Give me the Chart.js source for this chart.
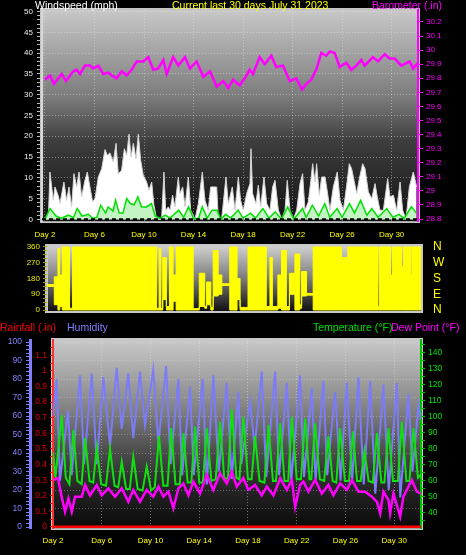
<!DOCTYPE html>
<html lang="en">
<head>
<meta charset="utf-8">
<title>Current last 30 days July 31 2023</title>
<script src="https://cdn.jsdelivr.net/npm/chart.js@4.4.0/dist/chart.umd.min.js"></script>
<style>
  html, body { margin: 0; padding: 0; background: #000; }
  body { position: relative; width: 466px; height: 555px; overflow: hidden; font-family: "Liberation Sans", Arial, sans-serif; }
  .panel { position: absolute; left: 0; width: 466px; }
  .caption { position: absolute; font-size: 10.5px; line-height: 12px; white-space: nowrap; }
</style>
</head>
<body>
<div class="panel" style="top:0;height:240px"><canvas id="wind-chart"></canvas></div>
<div class="panel" style="top:238px;height:82px"><canvas id="direction-chart"></canvas></div>
<div class="panel" style="top:320px;height:235px"><canvas id="climate-chart"></canvas></div>

<div class="caption" style="left:35px;top:-1px;color:#ffffff">Windspeed (mph)</div>
<div class="caption" style="left:172px;top:-1px;color:#ffff00">Current last 30 days July 31 2023</div>
<div class="caption" style="left:372px;top:-1px;color:#ff00ff">Barometer (.in)</div>
<div class="caption" style="left:0;top:321px;color:#ff0000">Rainfall (.in)</div>
<div class="caption" style="left:67px;top:321px;color:#8080ff">Humidity</div>
<div class="caption" style="left:313px;top:321px;color:#00e000">Temperature (°F)</div>
<div class="caption" style="left:391px;top:321px;color:#ff00ff">Dew Point (°F)</div>

<script>
// x positions are in days of the month
const dayTicks = [2, 6, 10, 14, 18, 22, 26, 30];
const compassLabels = ['N', 'E', 'S', 'W', 'N'];

const baroDays = [2.00, 2.40, 2.73, 3.35, 3.70, 4.29, 4.56, 4.83, 5.23, 5.63, 5.90, 6.31, 6.71, 7.11, 7.39, 7.79, 8.20, 8.60, 9.00, 9.41, 9.94, 10.34, 10.75, 11.15, 11.56, 11.83, 12.36, 12.77, 13.31, 13.71, 14.25, 14.79, 15.33, 15.87, 16.40, 16.81, 17.19, 17.73, 18.13, 18.53, 18.80, 19.34, 19.75, 20.28, 20.68, 21.22, 21.77, 22.30, 22.76, 23.11, 23.51, 23.91, 24.32, 24.72, 25.00, 25.40, 25.80, 26.34, 26.74, 27.15, 27.55, 27.82, 28.49, 28.90, 29.44, 29.84, 30.25, 30.78, 31.46, 31.73, 32.13];
const baroValues = [29.79, 29.82, 29.76, 29.83, 29.78, 29.85, 29.86, 29.83, 29.89, 29.89, 29.87, 29.89, 29.83, 29.84, 29.82, 29.80, 29.85, 29.82, 29.86, 29.92, 29.92, 29.95, 29.86, 29.87, 29.93, 29.83, 29.95, 29.89, 29.95, 29.87, 29.92, 29.81, 29.85, 29.74, 29.78, 29.73, 29.79, 29.75, 29.80, 29.86, 29.83, 29.95, 29.90, 29.96, 29.88, 29.89, 29.78, 29.80, 29.72, 29.76, 29.79, 29.86, 29.98, 29.96, 29.99, 29.98, 29.88, 29.91, 29.86, 29.89, 29.93, 29.89, 29.95, 29.92, 29.97, 29.94, 29.94, 29.89, 29.92, 29.87, 29.91];

const windDays = [1.87, 2.27, 2.40, 2.67, 2.81, 3.08, 3.21, 3.53, 3.75, 3.94, 4.15, 4.34, 4.56, 4.75, 4.96, 5.23, 5.42, 5.63, 5.85, 6.04, 6.31, 6.58, 6.85, 7.03, 7.25, 7.52, 7.74, 7.92, 8.19, 8.41, 8.60, 8.79, 8.95, 9.14, 9.35, 9.54, 9.73, 9.94, 10.21, 10.40, 10.62, 10.80, 11.02, 11.42, 11.61, 11.75, 11.96, 12.10, 12.31, 12.50, 12.77, 12.90, 13.12, 13.31, 13.58, 13.77, 14.12, 14.39, 14.71, 14.92, 15.19, 15.38, 15.87, 16.00, 16.27, 16.62, 16.81, 17.13, 17.35, 17.62, 17.80, 18.02, 18.29, 18.56, 18.64, 18.77, 19.04, 19.23, 19.42, 19.69, 19.91, 20.17, 20.39, 20.58, 20.85, 21.12, 21.39, 21.57, 21.79, 22.06, 22.33, 22.60, 22.81, 23.00, 23.27, 23.46, 23.62, 23.81, 23.94, 24.16, 24.35, 24.62, 24.81, 25.02, 25.29, 25.61, 25.83, 26.10, 26.37, 26.58, 26.77, 26.96, 27.18, 27.39, 27.66, 27.85, 28.12, 28.39, 28.66, 28.84, 29.06, 29.33, 29.68, 29.87, 30.14, 30.41, 30.68, 30.89, 31.16, 31.43, 31.75, 32.02];
const windGust = [0, 0, 11.4, 4.6, 7.8, 5.6, 3.8, 9.0, 4.6, 7.8, 3.0, 11.0, 7.8, 11.4, 5.4, 9.4, 11.4, 7.8, 4.2, 5.0, 10.2, 12.2, 16.8, 15.4, 16.0, 13.8, 18.3, 11.0, 11.8, 17.0, 15.4, 20.5, 15.0, 18.3, 14.6, 20.5, 14.2, 10.6, 9.0, 7.0, 9.0, 3.4, 0, 0, 11.4, 2.2, 3.0, 2.2, 5.8, 3.0, 10.2, 6.2, 7.8, 3.0, 10.2, 2.2, 0, 3.8, 11.4, 4.6, 2.2, 7.8, 7.8, 0, 0, 10.2, 3.8, 7.8, 2.2, 10.2, 4.6, 2.2, 6.2, 8.6, 17.0, 6.2, 3.8, 8.2, 3.0, 10.2, 3.8, 2.2, 7.8, 9.4, 2.2, 0, 2.2, 9.4, 2.2, 0, 2.2, 8.6, 11.0, 2.2, 4.2, 9.0, 13.4, 9.0, 13.4, 5.8, 10.2, 10.2, 6.6, 2.2, 7.8, 11.4, 4.6, 2.2, 8.2, 13.4, 12.2, 9.4, 6.2, 9.8, 13.4, 12.2, 6.6, 5.0, 8.6, 5.4, 2.2, 2.2, 9.8, 5.4, 5.8, 2.2, 9.0, 2.2, 0, 7.8, 11.4, 7.8];

const avgDays = [2.0, 2.4, 2.9, 3.3, 3.9, 4.3, 4.6, 5.0, 5.5, 5.9, 6.2, 6.5, 6.9, 7.1, 7.5, 7.7, 8.0, 8.3, 8.6, 8.9, 9.2, 9.5, 9.8, 10.2, 10.6, 10.9, 11.3, 11.7, 12.1, 12.8, 13.2, 13.6, 14.0, 14.4, 14.7, 15.1, 15.5, 15.9, 16.2, 16.6, 17.0, 17.6, 18.0, 18.6, 19.0, 19.6, 20.1, 20.6, 21.1, 21.6, 22.1, 22.8, 23.1, 23.6, 24.1, 24.6, 25.0, 25.6, 26.0, 26.6, 27.0, 27.5, 28.0, 28.4, 28.9, 29.6, 30.1, 30.6, 31.0, 31.6, 32.0];
const avgWind = [0, 2.6, 0.8, 0.3, 1.0, 0.4, 2.6, 0.8, 1.2, 0.2, 0.5, 3.4, 1.5, 3.0, 2.0, 4.6, 1.5, 1.5, 5.0, 3.8, 3.5, 5.4, 3.0, 3.0, 3.8, 0.8, 0.2, 1.0, 0.3, 2.2, 0.5, 3.0, 0.2, 0.2, 3.0, 0.3, 2.2, 2.2, 0, 1.2, 0.3, 2.2, 0.3, 1.5, 0.3, 2.6, 0.3, 1.8, 0, 3.0, 0, 2.6, 0.5, 3.4, 0.8, 3.8, 0.5, 2.6, 0.5, 3.8, 1.5, 4.6, 1.0, 2.6, 0.5, 2.6, 0.5, 1.2, 0.2, 3.0, 1.5];

const calmDays = [1.76, 32.13];
const calmValues = [0, 0];

// wind direction: each entry holds from its day until the next one
const dirDays = [1.5, 2.1, 2.4, 2.55, 2.75, 3.35, 3.6, 10.5, 10.7, 10.85, 11.0, 11.3, 11.55, 11.85, 12.1, 13.5, 14.0, 14.45, 14.6, 14.95, 15.14, 15.55, 15.85, 16.5, 17.1, 17.35, 18.0, 19.5, 19.8, 20.0, 20.45, 20.75, 21.15, 21.4, 21.85, 22.25, 22.4, 22.8, 23.35, 25.66, 26.2, 28.67, 28.8, 29.7, 29.85, 30.6, 30.75, 31.35, 31.45, 32.2];
const dirLow = [135, 30, 0, 20, 0, 0, 0, 0, 0, 0, 60, 0, 0, 50, 0, 0, 20, 10, 30, 0, 80, 90, 140, 0, 60, 0, 0, 0, 0, 0, 10, 0, 0, 90, 0, 10, 80, 85, 0, 0, 0, 0, 0, 0, 0, 0, 0, 0, 0, 0];
const dirHigh = [145, 190, 350, 200, 360, 10, 360, 10, 350, 10, 300, 20, 360, 200, 360, 8, 210, 20, 160, 15, 340, 200, 150, 360, 180, 15, 360, 20, 300, 20, 200, 340, 20, 210, 320, 30, 220, 95, 360, 300, 360, 20, 360, 200, 360, 250, 360, 200, 360, 360];

const humDays = [2.0, 2.3, 2.57, 3.23, 3.53, 4.22, 4.55, 5.18, 5.59, 6.13, 6.68, 7.23, 7.64, 8.18, 8.59, 9.14, 9.55, 10.23, 10.65, 11.28, 11.65, 12.29, 12.6, 13.25, 13.55, 14.29, 14.62, 15.16, 15.6, 16.26, 16.67, 17.21, 17.45, 18.17, 18.55, 19.13, 19.5, 20.23, 20.55, 21.19, 21.55, 22.28, 22.6, 23.24, 23.55, 24.19, 24.5, 25.15, 25.6, 26.11, 26.55, 27.07, 27.5, 28.03, 28.45, 29.12, 29.55, 30.22, 30.5, 31.17, 31.5, 32.0, 32.2];
const humValues = [60, 80, 25, 63, 28, 82, 34, 83, 34, 81, 44, 86, 53, 83, 48, 84, 55, 85, 45, 87, 34, 80, 28, 76, 28, 80, 23, 82, 30, 78, 26, 73, 34, 68, 43, 84, 27, 84, 28, 78, 25, 82, 27, 75, 25, 79, 28, 73, 25, 78, 25, 81, 23, 79, 18, 77, 20, 78, 16, 72, 30, 66, 58];

const tempDays = [2.0, 2.2, 2.71, 3.05, 3.35, 3.67, 4.0, 4.35, 4.63, 5.0, 5.3, 5.59, 5.95, 6.35, 6.68, 7.05, 7.35, 7.64, 8.0, 8.3, 8.59, 8.95, 9.35, 9.69, 10.05, 10.35, 10.70, 11.05, 11.4, 11.70, 12.05, 12.4, 12.70, 13.05, 13.35, 13.66, 14.0, 14.3, 14.62, 15.0, 15.35, 15.71, 16.05, 16.35, 16.67, 17.05, 17.3, 17.62, 18.0, 18.3, 18.58, 18.95, 19.35, 19.68, 20.05, 20.3, 20.64, 21.0, 21.3, 21.60, 22.0, 22.35, 22.69, 23.05, 23.2, 23.51, 23.9, 24.25, 24.60, 24.95, 25.25, 25.56, 25.95, 26.3, 26.61, 26.95, 27.25, 27.56, 27.9, 28.25, 28.58, 28.95, 29.2, 29.53, 29.9, 30.3, 30.63, 31.0, 31.25, 31.58, 31.95, 32.2];
const tempValues = [78, 62, 101, 62, 58, 92, 60, 58, 87, 60, 59, 81, 58, 57, 80, 57, 56, 72, 55, 55, 75, 55, 54, 69, 54, 56, 88, 57, 57, 93, 58, 58, 90, 59, 59, 94, 59, 59, 93, 60, 61, 97, 62, 61, 105, 62, 61, 100, 61, 61, 88, 60, 59, 95, 60, 60, 96, 60, 60, 100, 61, 61, 99, 61, 61, 96, 61, 60, 88, 60, 59, 93, 60, 60, 91, 60, 60, 79, 60, 59, 90, 59, 59, 93, 60, 60, 97, 60, 60, 93, 62, 64];

const dewDays = [2.02, 2.41, 2.71, 2.99, 3.26, 3.54, 3.81, 4.36, 4.63, 5.04, 5.59, 6.0, 6.54, 7.09, 7.64, 8.18, 8.59, 9.14, 9.69, 10.23, 10.65, 11.06, 11.47, 11.88, 12.29, 12.70, 13.11, 13.52, 14.07, 14.62, 15.16, 15.71, 16.26, 16.67, 17.08, 17.62, 18.03, 18.58, 19.13, 19.55, 20.09, 20.64, 21.19, 21.60, 21.87, 22.28, 22.55, 22.96, 23.51, 24.06, 24.60, 25.01, 25.56, 26.11, 26.52, 27.07, 27.62, 28.17, 28.58, 28.85, 29.12, 29.53, 29.67, 29.94, 30.49, 30.76, 31.45, 31.86, 32.19];
const dewValues = [60.6, 61.9, 50.2, 40.8, 49, 40.8, 50.2, 50.2, 57.5, 51, 57.5, 51, 55.4, 50.2, 55.4, 47, 54.4, 47, 54.4, 50.2, 56.5, 50.2, 53.3, 42.9, 55.4, 58.5, 51, 59.6, 52.1, 63.8, 54.4, 64.8, 58.5, 65.8, 56.5, 61.9, 54.4, 57.5, 51, 56.5, 51, 61.7, 54.4, 60.6, 43.9, 57.5, 59.6, 53.3, 60.6, 52.1, 57.5, 51, 58.5, 54.4, 60.6, 53.3, 53.3, 50.2, 47, 39.8, 53.3, 48.1, 39.8, 52.1, 37.7, 50.2, 60.6, 53.3, 52];

const rainDays = [2, 32.2];
const rainValues = [0, 0];

Chart.defaults.font.family = '"Liberation Sans", Arial, sans-serif';
Chart.defaults.animation = false;
Chart.defaults.elements.point.radius = 0;
Chart.defaults.elements.line.tension = 0;
Chart.defaults.plugins.legend.display = false;
Chart.defaults.plugins.tooltip.enabled = false;

// grey gradient behind each plot, with a light frame
const plotBackground = {
  id: 'plotBackground',
  beforeDraw(chart, args, opts) {
    const { ctx, chartArea: a } = chart;
    const gradient = ctx.createLinearGradient(0, a.top, 0, a.bottom);
    opts.stops.forEach(([offset, color]) => gradient.addColorStop(offset, color));
    ctx.save();
    ctx.fillStyle = gradient;
    ctx.fillRect(a.left, a.top, a.right - a.left, a.bottom - a.top);
    ctx.strokeStyle = opts.frame;
    ctx.lineWidth = 2;
    ctx.strokeRect(a.left - 1, a.top - 1, a.right - a.left + 2, a.bottom - a.top + 2);
    ctx.restore();
  }
};

function toPoints(days, values) {
  return days.map((day, i) => ({ x: day, y: values[i] }));
}

// fixed axis widths so the plot areas sit where they do in the picture
function fixWidth(width) {
  return scale => {
    scale.width = width;
    scale.paddingTop = 0;
    scale.paddingBottom = 0;
  };
}

function fixHeight(height) {
  return scale => {
    scale.height = height;
    scale.paddingLeft = 0;
    scale.paddingRight = 0;
  };
}

function setDayTicks(scale) {
  scale.ticks = dayTicks.map(value => ({ value }));
}

function isMultiple(value, step) {
  return Math.abs(value / step - Math.round(value / step)) < 1e-6;
}

function dayAxis(min, max, height, padding) {
  return {
    type: 'linear',
    min,
    max,
    afterFit: fixHeight(height),
    afterBuildTicks: setDayTicks,
    ticks: { color: '#ffff00', font: { size: 8 }, padding, autoSkip: false, maxRotation: 0, callback: v => 'Day ' + v },
    grid: { color: 'rgba(230, 230, 230, 0.45)', drawTicks: false },
    border: { color: '#a0a0a0', width: 1, dash: [1, 2] }
  };
}

new Chart(document.getElementById('wind-chart'), {
  type: 'line',
  data: {
    datasets: [
      { data: toPoints(baroDays, baroValues), yAxisID: 'yBaro', borderColor: '#ff00ff', borderWidth: 2.5 },
      { data: toPoints(calmDays, calmValues), yAxisID: 'yWind', borderColor: '#000000', borderWidth: 2, borderDash: [4, 3] },
      { data: toPoints(avgDays, avgWind), yAxisID: 'yWind', borderColor: '#00e000', borderWidth: 1.5, backgroundColor: '#c4f4c4', fill: 'origin' },
      { data: toPoints(windDays, windGust), yAxisID: 'yWind', borderColor: '#d4d4d4', borderWidth: 1, backgroundColor: '#ffffff', fill: 'origin' }
    ]
  },
  options: {
    responsive: true,
    maintainAspectRatio: false,
    layout: { padding: { top: 10 } },
    plugins: {
      plotBackground: { stops: [[0, '#c8c8c8'], [0.42, '#7a7a7a'], [0.62, '#3e3e3e'], [1, '#121212']], frame: '#c4c4c4' }
    },
    scales: {
      x: dayAxis(1.76, 32.13, 19, 9),
      yWind: {
        position: 'left',
        min: -0.4,
        max: 50.4,
        afterFit: fixWidth(42),
        ticks: { stepSize: 1, includeBounds: false, autoSkip: false, color: '#ececec', font: { size: 8 }, padding: 4, callback: v => isMultiple(v, 5) ? v : '' },
        grid: { color: ctx => ctx.tick && isMultiple(ctx.tick.value, 5) ? 'rgba(230, 230, 230, 0.45)' : 'transparent', tickColor: '#b8b8b8', tickLength: 5 },
        border: { color: '#d8d8d8', width: 2, dash: [1, 2] }
      },
      yBaro: {
        position: 'right',
        min: 28.786,
        max: 30.285,
        afterFit: fixWidth(48),
        ticks: { stepSize: 0.1, includeBounds: false, autoSkip: false, color: '#ff00ff', font: { size: 8 }, padding: 3, callback: v => String(Math.round(v * 10) / 10) },
        grid: { drawOnChartArea: false, tickColor: '#ff00ff', tickLength: 5 },
        border: { color: '#ff00ff', width: 2 }
      }
    }
  },
  plugins: [plotBackground]
});

new Chart(document.getElementById('direction-chart'), {
  type: 'line',
  data: {
    datasets: [
      { data: toPoints(dirDays, dirHigh), yAxisID: 'yDir', stepped: true, borderColor: '#ffff00', borderWidth: 1, backgroundColor: '#ffff00', fill: '+1' },
      { data: toPoints(dirDays, dirLow), yAxisID: 'yDir', stepped: true, borderColor: '#ffff00', borderWidth: 1 }
    ]
  },
  options: {
    responsive: true,
    maintainAspectRatio: false,
    layout: { padding: { top: 8, bottom: 9 } },
    plugins: {
      plotBackground: { stops: [[0, '#d0d0d0'], [0.5, '#7a7a7a'], [1, '#101010']], frame: '#c8c8c8' }
    },
    scales: {
      x: { type: 'linear', min: 1.5, max: 32.2, display: false },
      yDir: {
        position: 'left',
        min: -5.7,
        max: 365.7,
        afterFit: fixWidth(47),
        ticks: { stepSize: 22.5, includeBounds: false, autoSkip: false, color: '#e8e800', font: { size: 8 }, padding: 3, callback: v => isMultiple(v, 90) ? v : '' },
        grid: { drawOnChartArea: false, tickColor: '#a0a000', tickLength: 4 },
        border: { color: '#c8c8c8', width: 1 }
      },
      yCompass: {
        position: 'right',
        min: -5.7,
        max: 365.7,
        afterFit: fixWidth(45),
        ticks: { stepSize: 90, includeBounds: false, autoSkip: false, color: '#ffff00', font: { size: 12 }, padding: 12, callback: v => compassLabels[Math.round(v / 90)] },
        grid: { display: false, drawTicks: false },
        border: { display: false }
      }
    }
  },
  plugins: [plotBackground]
});

new Chart(document.getElementById('climate-chart'), {
  type: 'line',
  data: {
    datasets: [
      { data: toPoints(rainDays, rainValues), yAxisID: 'yRain', borderColor: '#ff0000', borderWidth: 3 },
      { data: toPoints(dewDays, dewValues), yAxisID: 'yTemp', borderColor: '#ff00ff', borderWidth: 2.5 },
      { data: toPoints(tempDays, tempValues), yAxisID: 'yTemp', borderColor: '#10e010', borderWidth: 2 },
      { data: toPoints(humDays, humValues), yAxisID: 'yHum', borderColor: '#7c7cf8', borderWidth: 2 }
    ]
  },
  options: {
    responsive: true,
    maintainAspectRatio: false,
    layout: { padding: { top: 20 } },
    plugins: {
      plotBackground: { stops: [[0, '#c8c8c8'], [0.33, '#8a8a8a'], [0.6, '#4a4a4a'], [0.8, '#242424'], [1, '#0a0a0a']], frame: '#c8c8c8' }
    },
    scales: {
      x: dayAxis(2, 32.2, 27, 8),
      yHum: {
        position: 'left',
        weight: 1,
        min: -0.54,
        max: 101.1,
        afterFit: fixWidth(30),
        ticks: { stepSize: 2, includeBounds: false, autoSkip: false, color: '#8080ff', font: { size: 8.5 }, padding: 4, callback: v => isMultiple(v, 10) ? v : '' },
        grid: { color: ctx => ctx.tick && isMultiple(ctx.tick.value, 10) ? 'rgba(230, 230, 230, 0.35)' : 'transparent', tickColor: '#8080ff', tickLength: 4 },
        border: { color: '#8080ff', width: 3, dash: [1, 2] }
      },
      yRain: {
        position: 'left',
        weight: 0,
        min: -0.0065,
        max: 1.198,
        afterFit: fixWidth(23),
        ticks: { stepSize: 0.05, includeBounds: false, autoSkip: false, color: '#e00000', font: { size: 8.5 }, padding: 3, callback: v => isMultiple(v, 0.1) ? String(Math.round(v * 10) / 10) : '' },
        grid: { drawOnChartArea: false, tickColor: '#e00000', tickLength: 3 },
        border: { color: '#ff3030', width: 2 }
      },
      yTemp: {
        position: 'right',
        min: 30.6,
        max: 148.1,
        afterFit: fixWidth(45),
        ticks: { stepSize: 5, includeBounds: false, autoSkip: false, color: '#00e000', font: { size: 8.5 }, padding: 3, callback: v => isMultiple(v, 10) && v >= 40 ? v : '' },
        grid: { drawOnChartArea: false, tickColor: '#00c000', tickLength: 4 },
        border: { color: '#00c000', width: 2 }
      }
    }
  },
  plugins: [plotBackground]
});
</script>
</body>
</html>
